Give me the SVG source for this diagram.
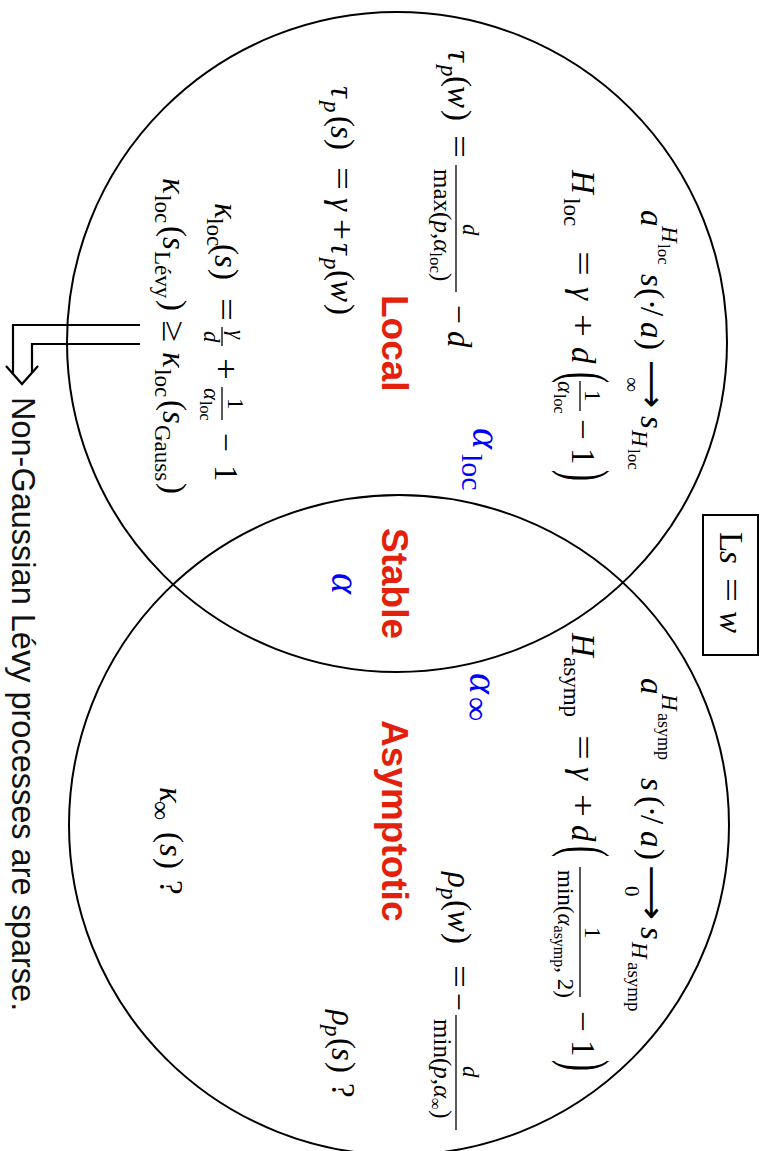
<svg xmlns="http://www.w3.org/2000/svg" width="763" height="1151" viewBox="0 0 763 1151">
<style>
.t{font-family:"Liberation Serif","DejaVu Serif",serif;font-size:33px;fill:#000}
.i{font-style:italic}
.ar{font-family:"DejaVu Sans",sans-serif}
.lbl{font-family:"Liberation Sans",Arial,sans-serif;font-weight:bold;font-size:37px;fill:#e3200b}
.bl{fill:#0000ff}
.bar{stroke:#000;stroke-width:1.3}
.circ{fill:none;stroke:#000;stroke-width:2}
.con{fill:none;stroke:#000;stroke-width:2.2;stroke-linejoin:miter}
.note{font-family:"Liberation Sans",Arial,sans-serif;font-size:32.5px;fill:#111}
</style>
<rect width="763" height="1151" fill="#fff"/>
<g id="sets">
  <circle id="set-local" class="circ" cx="397" cy="342" r="330"/>
  <circle id="set-asymptotic" class="circ" cx="399" cy="825" r="330"/>
</g>
<g id="connectors">
  <polyline class="con" points="140,325 13,325 13,373"/>
  <polyline class="con" points="140,344 32,344 32,373"/>
  <polyline class="con" points="6,366 22,384 38,366"/>
</g>
<g class="t" transform="translate(763,0) rotate(90)">
  <g id="equation-box">
    <rect x="515" y="5" width="140" height="55" fill="none" stroke="#000" stroke-width="2"/>
    <text x="532" y="43" font-size="33">L</text>
    <text class="i" x="551" y="43" font-size="33">s</text>
    <text x="578" y="43" font-size="33" textLength="24" lengthAdjust="spacingAndGlyphs">=</text>
    <text class="i" x="611" y="43" font-size="33">w</text>
  </g>
  <g id="labels">
    <text class="lbl" x="295" y="381">Local</text>
    <text class="lbl" x="528" y="381">Stable</text>
    <text class="lbl" x="720" y="381">Asymptotic</text>
  </g>
  <g id="alphas">
    <text class="bl i" x="428" y="290" font-size="40">α</text>
    <text class="bl" x="454" y="301" font-size="30">loc</text>
    <text class="bl i" x="573" y="431" font-size="40">α</text>
    <text class="bl i" x="673" y="293" font-size="40">α</text>
    <text class="bl" x="697" y="297" font-size="34">∞</text>
  </g>
  <g id="local-scaling">
    <text class="i" x="210" y="122">a</text>
    <text class="i" x="226" y="101" font-size="23">H</text>
    <text x="244" y="105" font-size="17">loc</text>
    <text class="i" x="274" y="122">s</text>
    <text x="288" y="122">(</text>
    <text x="299" y="122">·</text>
    <text x="307" y="122">/</text>
    <text class="i" x="322" y="122">a</text>
    <text x="339" y="122">)</text>
    <text class="ar" x="360" y="122" textLength="48" lengthAdjust="spacingAndGlyphs">⟶</text>
    <text x="377" y="138" font-size="21">∞</text>
    <text class="i" x="416" y="122">s</text>
    <text class="i" x="430" y="131" font-size="23">H</text>
    <text x="449" y="135" font-size="17">loc</text>
  </g>
  <g id="local-hurst">
    <text class="i" x="170" y="191">H</text>
    <text x="198" y="199" font-size="23">loc</text>
    <text x="251" y="191" textLength="25" lengthAdjust="spacingAndGlyphs">=</text>
    <text class="i" x="287" y="191">γ</text>
    <text x="314" y="191" textLength="23" lengthAdjust="spacingAndGlyphs">+</text>
    <text class="i" x="347" y="191">d</text>
    <text transform="translate(372,183) scale(1,1.9)" x="0" y="8">(</text>
    <line class="bar" x1="381" y1="183" x2="411" y2="183"/>
    <text x="390" y="178" font-size="23">1</text>
    <text class="i" x="381" y="205" font-size="23">α</text>
    <text x="394" y="209" font-size="16">loc</text>
    <text x="419" y="191" textLength="21" lengthAdjust="spacingAndGlyphs">−</text>
    <text x="448" y="191">1</text>
    <text transform="translate(470,183) scale(1,1.9)" x="0" y="8">)</text>
  </g>
  <g id="local-tau-w">
    <text class="i" x="50" y="315">τ</text>
    <text class="i" x="65" y="322" font-size="23">p</text>
    <text x="76" y="315">(</text>
    <text class="i" x="86" y="315">w</text>
    <text x="110" y="315">)</text>
    <text x="135" y="315" textLength="23" lengthAdjust="spacingAndGlyphs">=</text>
    <line class="bar" x1="165" y1="307" x2="292" y2="307"/>
    <text class="i" x="224" y="300" font-size="23">d</text>
    <text x="169" y="329" font-size="25">max(<tspan class="i">p</tspan>,<tspan class="i">α</tspan><tspan font-size="17" dy="4">loc</tspan><tspan dy="-4">)</tspan></text>
    <text x="305" y="315" textLength="19" lengthAdjust="spacingAndGlyphs">−</text>
    <text class="i" x="331" y="315">d</text>
  </g>
  <g id="local-tau-s">
    <text class="i" x="86" y="432">τ</text>
    <text class="i" x="101" y="439" font-size="23">p</text>
    <text x="116" y="432">(</text>
    <text class="i" x="126" y="432">s</text>
    <text x="139" y="432">)</text>
    <text x="167" y="432" textLength="23" lengthAdjust="spacingAndGlyphs">=</text>
    <text class="i" x="198" y="432">γ</text>
    <text x="219" y="432" textLength="21" lengthAdjust="spacingAndGlyphs">+</text>
    <text class="i" x="243" y="432">τ</text>
    <text class="i" x="258" y="439" font-size="23">p</text>
    <text x="270" y="432">(</text>
    <text class="i" x="280" y="432">w</text>
    <text x="304" y="432">)</text>
  </g>
  <g id="local-kappa">
    <text class="i" x="203" y="548">κ</text>
    <text x="218" y="556" font-size="23">loc</text>
    <text x="244" y="548">(</text>
    <text class="i" x="255" y="548">s</text>
    <text x="269" y="548">)</text>
    <text x="298" y="548" textLength="23" lengthAdjust="spacingAndGlyphs">=</text>
    <line class="bar" x1="327" y1="541" x2="346" y2="541"/>
    <text class="i" x="330" y="534" font-size="23">γ</text>
    <text class="i" x="331" y="559" font-size="23">d</text>
    <text x="358" y="548" textLength="22" lengthAdjust="spacingAndGlyphs">+</text>
    <line class="bar" x1="387" y1="541" x2="420" y2="541"/>
    <text x="398" y="535" font-size="23">1</text>
    <text class="i" x="388" y="559" font-size="23">α</text>
    <text x="401" y="563" font-size="16">loc</text>
    <text x="433" y="548" textLength="19" lengthAdjust="spacingAndGlyphs">−</text>
    <text x="465" y="548">1</text>
  </g>
  <g id="levy-vs-gauss">
    <text class="i" x="178" y="600">κ</text>
    <text x="195" y="608" font-size="23">loc</text>
    <text x="226" y="600">(</text>
    <text class="i" x="237" y="600">s</text>
    <text x="251" y="608" font-size="23">Lévy</text>
    <text x="300" y="600">)</text>
    <text x="320" y="600" textLength="22" lengthAdjust="spacingAndGlyphs">≥</text>
    <text class="i" x="352" y="600">κ</text>
    <text x="369" y="608" font-size="23">loc</text>
    <text x="400" y="600">(</text>
    <text class="i" x="411" y="600">s</text>
    <text x="425" y="608" font-size="23">Gauss</text>
    <text x="483" y="600">)</text>
  </g>
  <g id="asymp-scaling">
    <text class="i" x="678" y="122">a</text>
    <text class="i" x="694" y="101" font-size="23">H</text>
    <text x="713" y="105" font-size="18">asymp</text>
    <text class="i" x="778" y="122">s</text>
    <text x="796" y="122">(</text>
    <text x="806" y="122">·</text>
    <text x="815" y="122">/</text>
    <text class="i" x="831" y="122">a</text>
    <text x="849" y="122">)</text>
    <text class="ar" x="865" y="122" textLength="55" lengthAdjust="spacingAndGlyphs">⟶</text>
    <text x="886" y="138" font-size="21">0</text>
    <text class="i" x="927" y="122">s</text>
    <text class="i" x="942" y="131" font-size="23">H</text>
    <text x="962" y="135" font-size="19">asymp</text>
  </g>
  <g id="asymp-hurst">
    <text class="i" x="633" y="191">H</text>
    <text x="657" y="199" font-size="23">asymp</text>
    <text x="735" y="191" textLength="25" lengthAdjust="spacingAndGlyphs">=</text>
    <text class="i" x="767" y="191">γ</text>
    <text x="794" y="191" textLength="23" lengthAdjust="spacingAndGlyphs">+</text>
    <text class="i" x="825" y="191">d</text>
    <text transform="translate(846,183) scale(1,1.9)" x="0" y="8">(</text>
    <line class="bar" x1="867" y1="183" x2="997" y2="183"/>
    <text x="927" y="178" font-size="23">1</text>
    <text x="870" y="205" font-size="23">min(<tspan class="i">α</tspan><tspan font-size="16" dy="4">asymp</tspan><tspan dy="-4">, 2)</tspan></text>
    <text x="1011" y="191" textLength="21" lengthAdjust="spacingAndGlyphs">−</text>
    <text x="1040" y="191">1</text>
    <text transform="translate(1060,183) scale(1,1.9)" x="0" y="8">)</text>
  </g>
  <g id="asymp-rho-w">
    <text class="i" x="872" y="315">ρ</text>
    <text class="i" x="888" y="322" font-size="23">p</text>
    <text x="900" y="315">(</text>
    <text class="i" x="910" y="315">w</text>
    <text x="933" y="315">)</text>
    <text x="965" y="315" textLength="23" lengthAdjust="spacingAndGlyphs">=</text>
    <text x="993" y="315" textLength="18" lengthAdjust="spacingAndGlyphs">−</text>
    <line class="bar" x1="1015" y1="307" x2="1130" y2="307"/>
    <text class="i" x="1066" y="300" font-size="23">d</text>
    <text x="1019" y="329" font-size="25">min(<tspan class="i">p</tspan>,<tspan class="i">α</tspan><tspan font-size="17" dy="4">∞</tspan><tspan dy="-4">)</tspan></text>
  </g>
  <g id="asymp-rho-s">
    <text class="i" x="1010" y="431">ρ</text>
    <text class="i" x="1025" y="438" font-size="23">p</text>
    <text x="1038" y="431">(</text>
    <text class="i" x="1048" y="431">s</text>
    <text x="1062" y="431">)</text>
    <text x="1083" y="431">?</text>
  </g>
  <g id="asymp-kappa">
    <text class="i" x="787" y="603">κ</text>
    <text x="801" y="611" font-size="27">∞</text>
    <text x="832" y="603">(</text>
    <text class="i" x="844" y="603">s</text>
    <text x="858" y="603">)</text>
    <text x="880" y="603">?</text>
  </g>
  <g id="conclusion">
    <text class="note" x="397" y="751">Non-Gaussian Lévy processes are sparse.</text>
  </g>
</g>
</svg>
